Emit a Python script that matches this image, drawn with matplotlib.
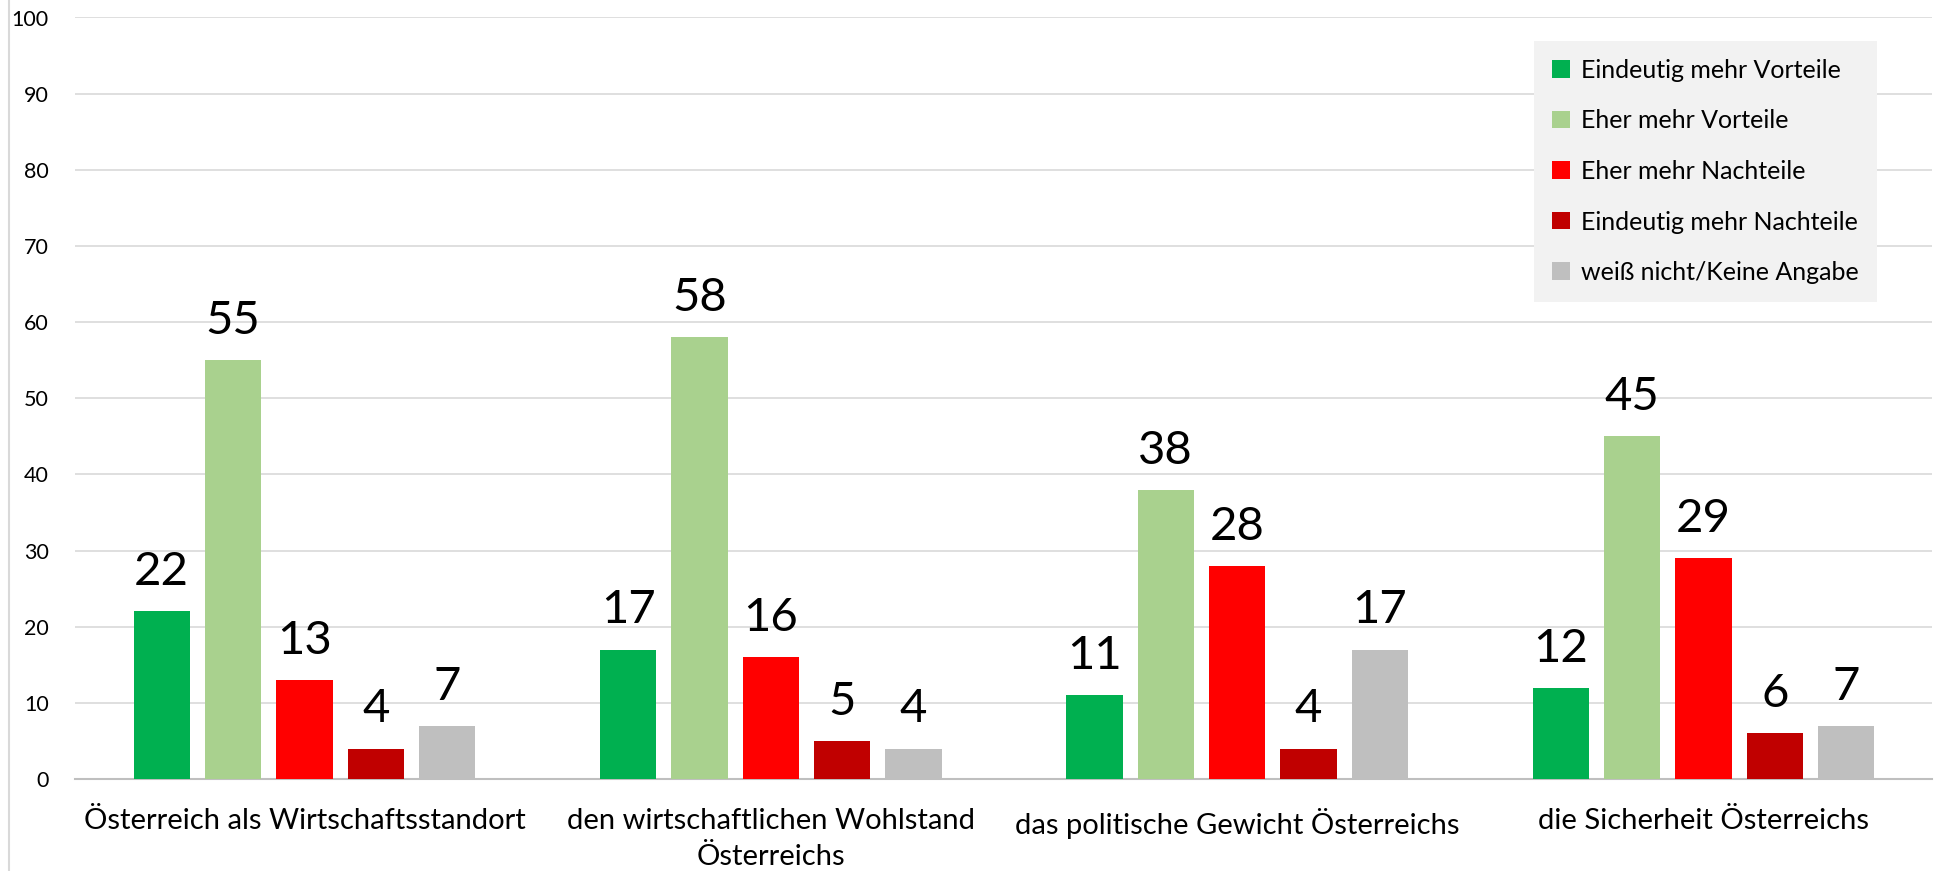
import matplotlib
matplotlib.use("Agg")
import matplotlib.pyplot as plt
import numpy as np
from matplotlib.patches import Patch
from matplotlib.lines import Line2D

categories = ["Österreich als Wirtschaftsstandort",
              "den wirtschaftlichen Wohlstand\nÖsterreichs",
              "das politische Gewicht Österreichs",
              "die Sicherheit Österreichs"]
series_names = ["Eindeutig mehr Vorteile", "Eher mehr Vorteile", "Eher mehr Nachteile",
                "Eindeutig mehr Nachteile", "weiß nicht/Keine Angabe"]
values = [
    [22, 17, 11, 12],
    [55, 58, 38, 45],
    [13, 16, 28, 29],
    [4, 5, 4, 6],
    [7, 4, 17, 7],
]
colors = ["#00B050", "#A9D18E", "#FF0000", "#C00000", "#BFBFBF"]
yticks = [0, 10, 20, 30, 40, 50, 60, 70, 80, 90, 100]

plt.rcParams['font.family'] = ['Lato', 'DejaVu Sans']

W, H = 1959, 871
fig = plt.figure(figsize=(W/100, H/100), dpi=100)
ax = fig.add_axes([75/W, (H-779)/H, (1932-75)/W, (779-17.5)/H])

x = np.arange(len(categories))
step = 0.153
bw = 0.121
for i, (name, vals, c) in enumerate(zip(series_names, values, colors)):
    pos = x + (i - 2) * step
    ax.bar(pos, vals, width=bw, color=c, label=name, zorder=3)
    for p, v in zip(pos, vals):
        ax.annotate(str(v), (p, v), xytext=(0, 13), textcoords='offset points',
                    ha='center', va='bottom', fontsize=34, color='black')

ax.set_xlim(-0.492, 3.49)
ax.set_ylim(0, 100)
ax.set_yticks(yticks)
ax.set_yticklabels([str(t) for t in yticks], fontsize=15.5)
ax.yaxis.grid(True, color='#d9d9d9', linewidth=1.2, zorder=0)
ax.set_axisbelow(True)
for s in ['top', 'right', 'left']:
    ax.spines[s].set_visible(False)
ax.spines['bottom'].set_color('#bfbfbf')
ax.spines['bottom'].set_linewidth(1.5)
ax.tick_params(axis='y', length=0, pad=19)
ax.tick_params(axis='x', length=0, pad=21)
ax.set_xticks(x)
ax.set_xticklabels(categories, fontsize=21, linespacing=1.45)

# left border line of chart
fig.add_artist(Line2D([9/W, 9/W], [0, 1], color='#d9d9d9', linewidth=1.5))

handles = [Patch(facecolor=c, edgecolor='none') for c in colors]
leg = ax.legend(handles, series_names, loc='upper left',
                bbox_to_anchor=(1534/W, (H-41)/H), bbox_transform=fig.transFigure,
                fontsize=18, frameon=True, facecolor='#f2f2f2', edgecolor='none',
                fancybox=False, framealpha=1, handlelength=0.7, handleheight=0.7,
                handletextpad=0.45, labelspacing=1.1, borderpad=0.72, borderaxespad=0)

fig.savefig("out.png", dpi=100, facecolor='white')
